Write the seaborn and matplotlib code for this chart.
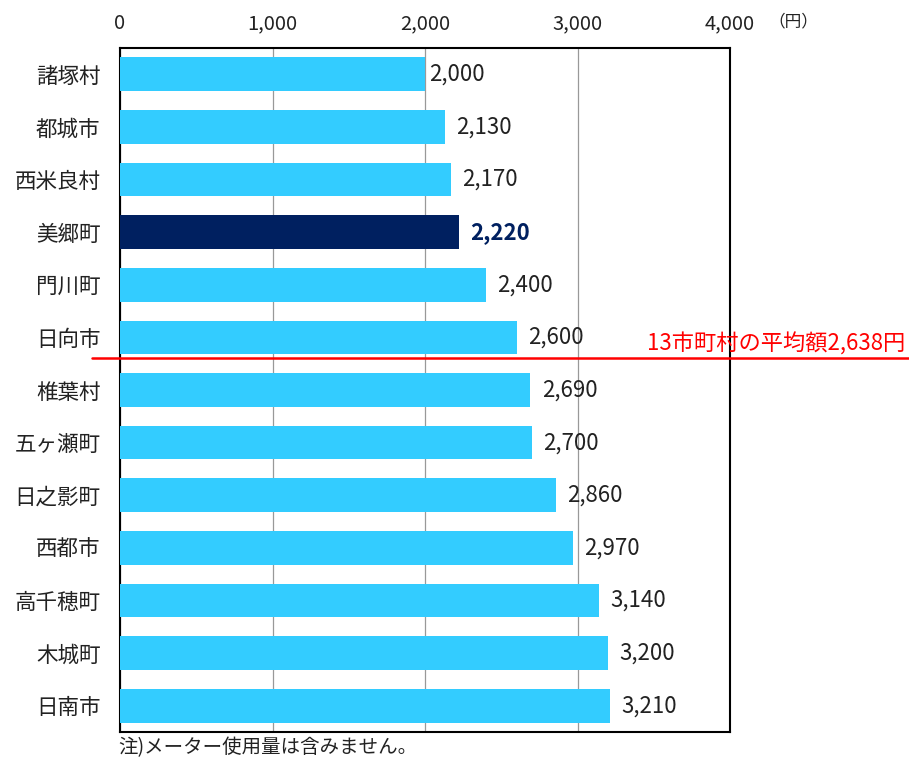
import matplotlib
matplotlib.use("Agg")
import matplotlib.pyplot as plt
import matplotlib.transforms as mtransforms
import seaborn as sns
import pandas as pd

categories = ["諸塚村", "都城市", "西米良村", "美郷町", "門川町", "日向市", "椎葉村",
              "五ヶ瀬町", "日之影町", "西都市", "高千穂町", "木城町", "日南市"]
values = [2000, 2130, 2170, 2220, 2400, 2600, 2690, 2700, 2860, 2970, 3140, 3200, 3210]
highlight = "美郷町"
average = 2638
avg_label = "13市町村の平均額2,638円"
x_ticks = [0, 1000, 2000, 3000, 4000]
unit_label = "（円）"
note = "注)メーター使用量は含みません。"

sns.set_theme(style="white")
plt.rcParams['font.family'] = ['Noto Sans CJK JP', 'DejaVu Sans']

base_color = "#33CCFF"
hi_color = "#002060"
df = pd.DataFrame({"cat": categories, "val": values})
palette = {c: (hi_color if c == highlight else base_color) for c in categories}

fig = plt.figure(figsize=(9.09, 7.58), dpi=100)
ax = fig.add_axes([120/909, 1-732/758, 610/909, 684/758])

sns.barplot(data=df, x="val", y="cat", hue="cat", palette=palette, legend=False,
            width=0.64, saturation=1, ax=ax, zorder=3, linewidth=0)

ax.set_xlim(0, 4000)
ax.set_ylim(len(categories) - 0.5, -0.5)
ax.set_xticks(x_ticks)
ax.set_xticklabels([f"{t:,}" for t in x_ticks])
ax.xaxis.tick_top()
ax.tick_params(axis="x", length=0, pad=10, labelsize=14.5, colors="#222222")
ax.tick_params(axis="y", length=0, pad=14, labelsize=15.5, colors="#222222")
ax.set_xlabel("")
ax.set_ylabel("")
ax.grid(axis="x", color="#999999", linewidth=0.9, zorder=0)
ax.grid(axis="y", visible=False)
for s in ax.spines.values():
    s.set_color("black")
    s.set_linewidth(1.5)
    s.set_visible(True)

for i, (c, v) in enumerate(zip(categories, values)):
    off = 30 if i == 0 else 75
    if c == highlight:
        ax.text(v + off, i, f"{v:,}", va="center", ha="left", fontsize=16,
                color=hi_color, fontweight="semibold")
    else:
        ax.text(v + off, i, f"{v:,}", va="center", ha="left", fontsize=16, color="#222222")

# average line between 日向市 and 椎葉村
avg_pos = 5.39
trans = mtransforms.blended_transform_factory(ax.transAxes, ax.transData)
ax.plot([-28/610, 789/610], [avg_pos, avg_pos], transform=trans, color="red",
        linewidth=1.8, clip_on=False, zorder=5)
ax.text(785/610, avg_pos - 0.04, avg_label, transform=trans, ha="right", va="bottom",
        color="red", fontsize=16, clip_on=False)

fig.text(768/909, 1-22/758, unit_label, ha="left", va="center", fontsize=12, color="#222222")
fig.text(118/909, 1-748/758, note, ha="left", va="center", fontsize=14, color="#222222")

fig.savefig("out.png", dpi=100)
